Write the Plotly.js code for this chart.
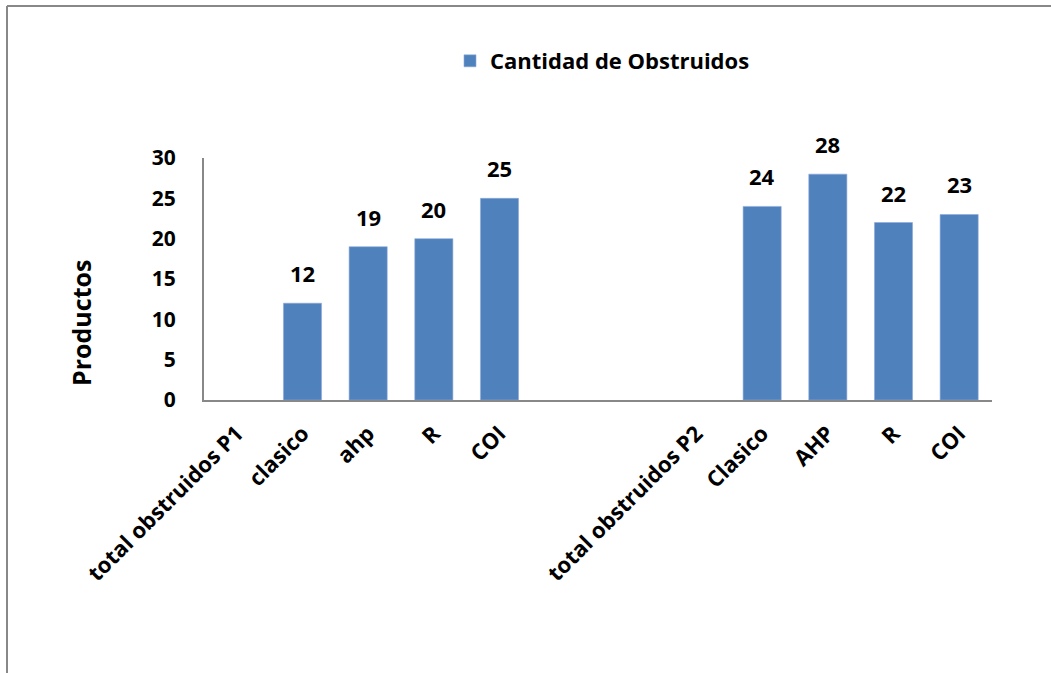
<!DOCTYPE html>
<html>
<head>
<meta charset="utf-8">
<script src="https://cdn.plot.ly/plotly-3.0.1.min.js"></script>
<style>
  html, body { margin: 0; padding: 0; background: #fff; }
  #chart { width: 1051px; height: 673px; }
</style>
</head>
<body>
<div id="chart"></div>
<script>
// ---- data ----
const categoryLabels = ["total obstruidos P1", "clasico", "ahp", "R", "COI", "", "",
                        "total obstruidos P2", "Clasico", "AHP", "R", "COI"];
const obstruidos = [null, 12, 19, 20, 25, null, null, null, 24, 28, 22, 23];
const seriesName = "Cantidad de Obstruidos";
const yTicks = [0, 5, 10, 15, 20, 25, 30];
const yTitle = "Productos";

// ---- layout constants ----
const W = 1051, H = 673;
const M = { l: 204, r: 59, t: 158, b: 273 };
const plotW = W - M.l - M.r, plotH = H - M.t - M.b;
const FONT = "Open Sans";
const idx = categoryLabels.map((_, i) => i);
const px = v => (v - M.l) / plotW;
const py = v => (H - M.b - v) / plotH;

const trace = {
  type: "bar",
  x: idx,
  y: obstruidos,
  name: seriesName,
  marker: { color: "#4F81BD", line: { color: "#8EAAD8", width: 0.6 } },
  hoverinfo: "y"
};

const annotations = [];
idx.forEach(i => {
  if (obstruidos[i] !== null) {
    annotations.push({
      x: i, y: obstruidos[i], xref: "x", yref: "y",
      text: String(obstruidos[i]), showarrow: false,
      yanchor: "bottom", yshift: 13,
      font: { family: FONT, size: 22, color: "#000", weight: "bold" }
    });
  }
});
// y-axis title
annotations.push({
  xref: "paper", yref: "paper", x: px(81), y: py(323),
  xanchor: "center", yanchor: "middle", textangle: -90,
  text: yTitle, showarrow: false,
  font: { family: FONT, size: 25, color: "#000", weight: "bold" }
});

// frame (left and top edges visible)
const shapes = [
  { type: "line", xref: "paper", yref: "paper", x0: px(7), x1: px(W + 5), y0: py(6), y1: py(6),
    line: { color: "#888888", width: 2 } },
  { type: "line", xref: "paper", yref: "paper", x0: px(7), x1: px(7), y0: py(6), y1: py(H + 5),
    line: { color: "#888888", width: 2 } }
];

const layout = {
  width: W, height: H,
  margin: M,
  paper_bgcolor: "#fff", plot_bgcolor: "#fff",
  font: { family: FONT, color: "#000" },
  bargap: 0.42,
  showlegend: true,
  legend: {
    orientation: "h",
    x: px(450), xanchor: "left",
    y: py(40), yanchor: "top",
    font: { family: FONT, size: 22, color: "#000", weight: "bold" },
    itemclick: false
  },
  xaxis: {
    range: [-0.5, categoryLabels.length - 0.5],
    tickmode: "array", tickvals: idx, ticktext: categoryLabels,
    tickangle: -45,
    showline: true, linecolor: "#888888", linewidth: 2,
    showgrid: false, zeroline: false, ticks: "",
    ticklabelstandoff: 10,
    tickfont: { family: FONT, size: 22, color: "#000", weight: "bold" },
    fixedrange: true
  },
  yaxis: {
    range: [0, 30],
    tickmode: "array", tickvals: yTicks,
    showline: true, linecolor: "#888888", linewidth: 2,
    showgrid: false, zeroline: false, ticks: "",
    ticklabelstandoff: 22,
    tickfont: { family: FONT, size: 21, color: "#000", weight: "bold" },
    fixedrange: true
  },
  annotations: annotations,
  shapes: shapes
};

Plotly.newPlot("chart", [trace], layout, { displayModeBar: false, staticPlot: true });
</script>
</body>
</html>
